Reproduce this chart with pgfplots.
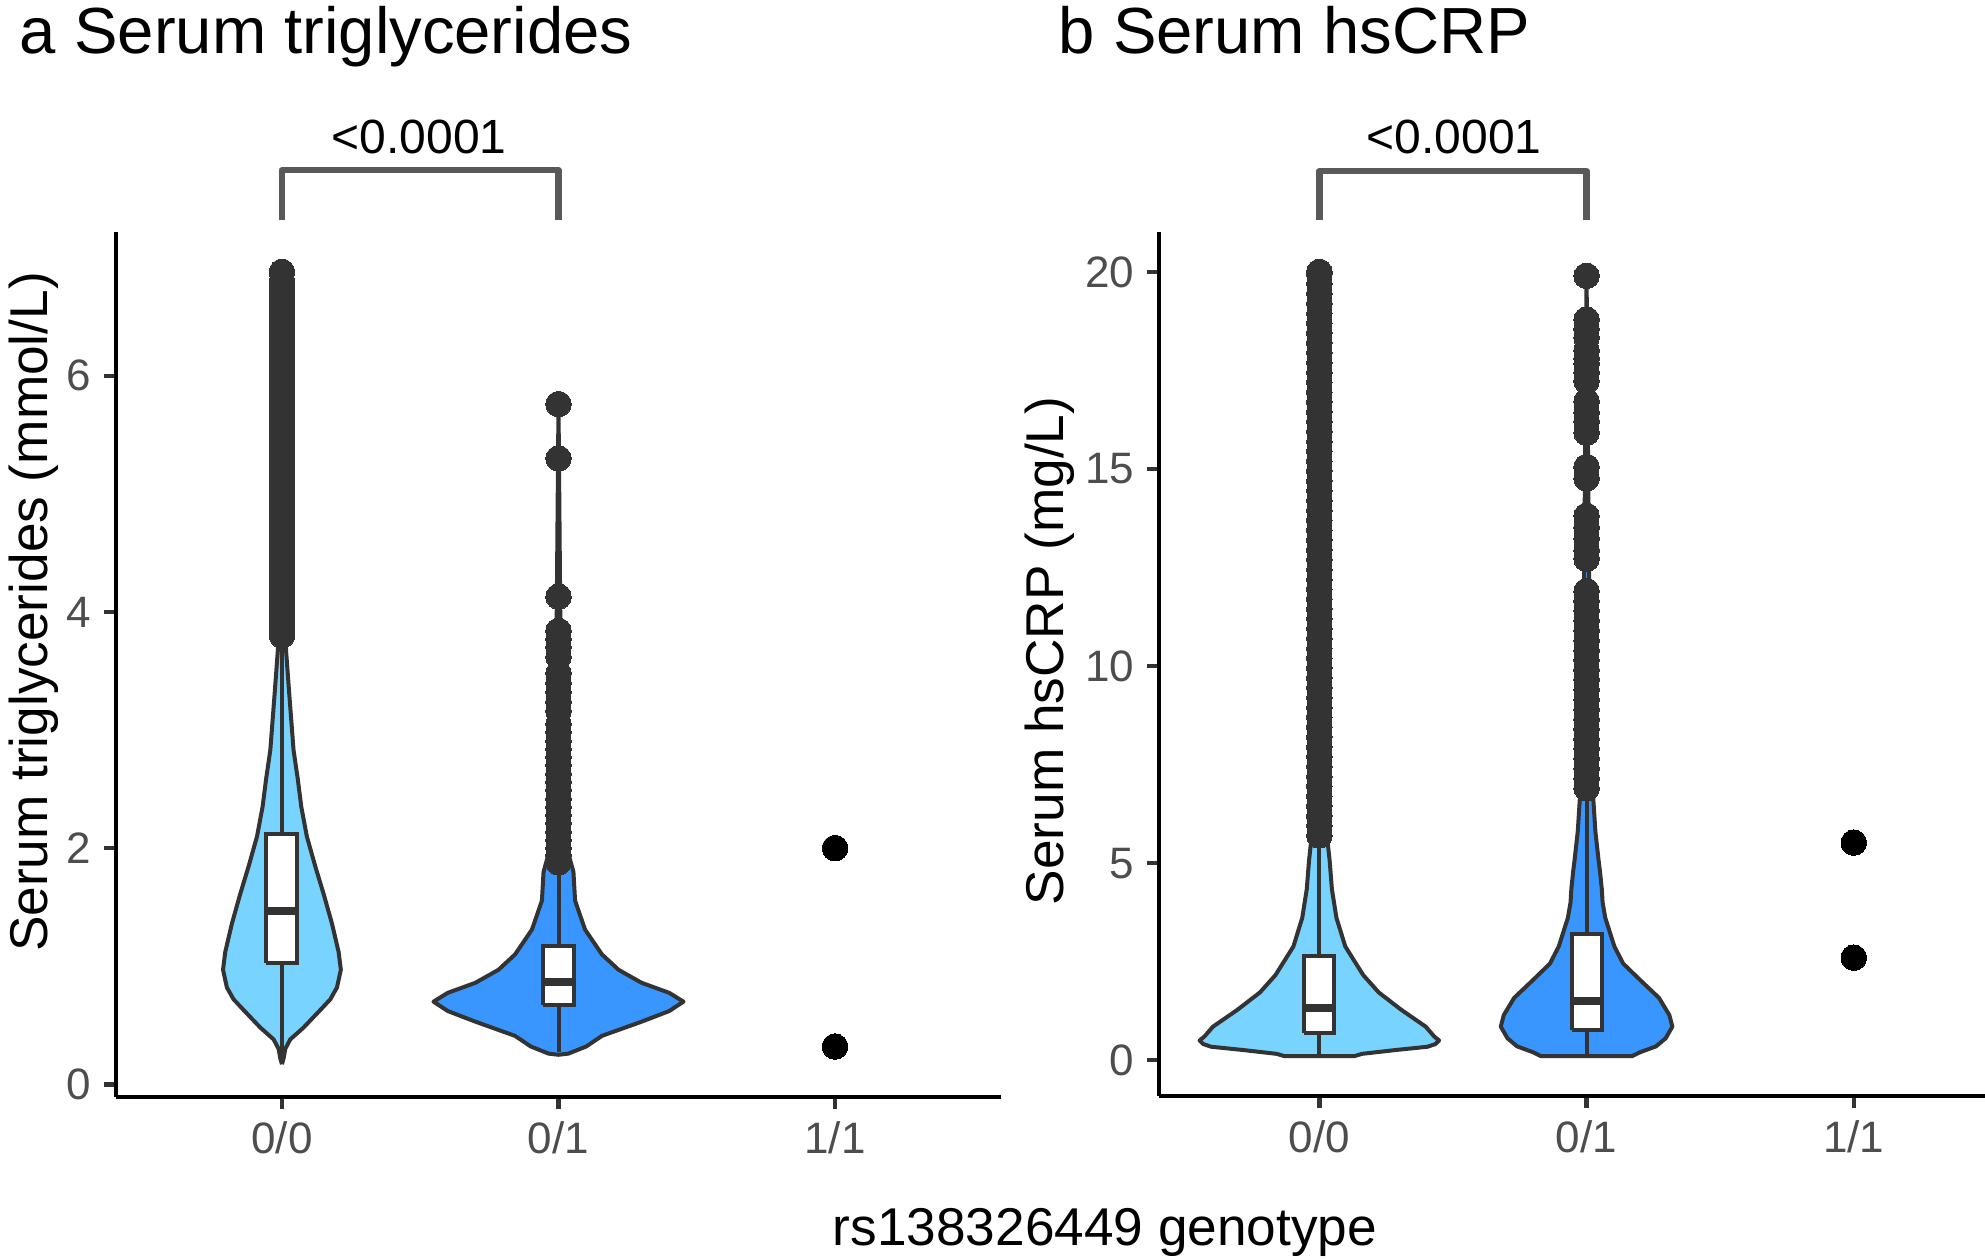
\documentclass[border=0pt]{standalone}
\usepackage{fontspec}
\setmainfont{Liberation Sans}
\usepackage{pgfplots}
\pgfplotsset{compat=1.18}
\definecolor{vlight}{RGB}{120,212,255}
\definecolor{vdark}{RGB}{58,150,255}
\definecolor{outl}{RGB}{51,51,51}
\definecolor{tickgray}{RGB}{77,77,77}
\definecolor{brk}{RGB}{89,89,89}
\pgfplotsset{
  common/.style={
    scale only axis, anchor=south west, clip=false,
    axis x line*=bottom, axis y line*=left,
    axis line style={-, line width=1pt, black},
    tick align=outside, major tick length=3pt,
    tick style={line width=1.1pt, color=outl},
    tick label style={font=\fontsize{11}{13}\selectfont, text=tickgray, inner sep=0pt},
    xticklabel shift=3pt, yticklabel shift=3pt,
    xtick={1,2,3}, xticklabels={0/0,0/1,1/1},
    xmin=0.4, minor tick num=0,
  },
  viol/.style={draw=outl, line width=1pt, line join=round},
  whisk/.style={outl, line width=1pt},
  boxs/.style={draw=outl, fill=white, line width=1pt, line join=miter},
  med/.style={outl, line width=2pt},
  outs/.style={only marks, mark=*, mark size=3.2pt, mark options={draw=outl, fill=outl, line width=0pt}},
  pts11/.style={only marks, mark=*, mark size=3.2pt, mark options={draw=black, fill=black, line width=0pt}},
  brack/.style={brk, line width=1.6pt, line join=round},
}
\begin{document}
\begin{tikzpicture}
\path[use as bounding box] (0pt,0pt) rectangle (496.25pt,314.5pt);

% ---------------- Panel a ----------------
\begin{axis}[common, at={(29pt,40.325pt)}, width=221.25pt, height=216.25pt,
  xmax=3.6, ymin=-0.105, ymax=7.22, ytick={0,2,4,6}, yticklabels={0,2,4,6}]
% violin 0/0
\addplot[viol, fill=vlight] coordinates {
 (1,0.17) (1.006,0.22) (1.012,0.30) (1.03,0.38) (1.078,0.48) (1.139,0.63) (1.175,0.72)
 (1.199,0.82) (1.213,0.97) (1.205,1.12) (1.181,1.36) (1.151,1.61) (1.12,1.85) (1.09,2.10)
 (1.07,2.35) (1.057,2.59) (1.042,2.83) (1.026,3.32) (1.015,3.67) (1.008,4.2) (1.004,5.5) (1,6.9)
 (0.996,5.5) (0.992,4.2) (0.985,3.67) (0.974,3.32) (0.958,2.83) (0.943,2.59) (0.93,2.35)
 (0.91,2.10) (0.88,1.85) (0.849,1.61) (0.819,1.36) (0.795,1.12) (0.787,0.97) (0.801,0.82)
 (0.825,0.72) (0.861,0.63) (0.922,0.48) (0.97,0.38) (0.988,0.30) (0.994,0.22) (1,0.17)};
% violin 0/1
\addplot[viol, fill=vdark] coordinates {
 (2,0.25) (2.036,0.26) (2.10,0.32) (2.157,0.41) (2.30,0.53) (2.40,0.62) (2.452,0.70)
 (2.40,0.775) (2.30,0.86) (2.217,0.97) (2.157,1.10) (2.096,1.31) (2.06,1.555) (2.054,1.80)
 (2.03,2.0) (2.01,3.0) (2,5.76)
 (1.99,3.0) (1.97,2.0) (1.946,1.80) (1.94,1.555) (1.904,1.31) (1.843,1.10) (1.783,0.97)
 (1.70,0.86) (1.60,0.775) (1.548,0.70) (1.60,0.62) (1.70,0.53) (1.843,0.41) (1.90,0.32)
 (1.964,0.26) (2,0.25)};
% boxplots
\addplot[whisk] coordinates {(1,0.2) (1,3.75)};
\addplot[boxs] coordinates {(0.944,1.03) (1.056,1.03) (1.056,2.12) (0.944,2.12) (0.944,1.03)};
\addplot[med] coordinates {(0.944,1.47) (1.056,1.47)};
\addplot[whisk] coordinates {(2,0.27) (2,1.88)};
\addplot[boxs] coordinates {(1.944,0.67) (2.056,0.67) (2.056,1.17) (1.944,1.17) (1.944,0.67)};
\addplot[med] coordinates {(1.944,0.87) (2.056,0.87)};
% outliers 0/0
\addplot[outs] coordinates {
 (1,3.80) (1,3.86) (1,3.92) (1,3.98) (1,4.04) (1,4.10) (1,4.16) (1,4.22) (1,4.28) (1,4.34)
 (1,4.40) (1,4.46) (1,4.52) (1,4.58) (1,4.64) (1,4.70) (1,4.76) (1,4.82) (1,4.88) (1,4.94)
 (1,5.00) (1,5.06) (1,5.12) (1,5.18) (1,5.24) (1,5.30) (1,5.36) (1,5.42) (1,5.48) (1,5.54)
 (1,5.60) (1,5.66) (1,5.72) (1,5.78) (1,5.84) (1,5.90) (1,5.96) (1,6.02) (1,6.08) (1,6.14)
 (1,6.20) (1,6.26) (1,6.32) (1,6.38) (1,6.44) (1,6.50) (1,6.56) (1,6.62) (1,6.68) (1,6.74)
 (1,6.80) (1,6.88)};
% outliers 0/1
\addplot[outs] coordinates {
 (2,5.76) (2,5.30) (2,4.13) (2,3.84) (2,3.77) (2,3.70) (2,3.62) (2,3.48) (2,3.40) (2,3.32)
 (2,3.24) (2,3.16) (2,3.05) (2,2.98) (2,2.91) (2,2.84) (2,2.77) (2,2.70) (2,2.63) (2,2.56)
 (2,2.49) (2,2.42) (2,2.35) (2,2.28) (2,2.21) (2,2.14) (2,2.07) (2,2.00) (2,1.94) (2,1.88)};
% 1/1 points
\addplot[pts11] coordinates {(3,2.0) (3,0.32)};
% bracket
\addplot[brack] coordinates {(1,7.32) (1,7.74) (2,7.74) (2,7.32)};
\end{axis}

% ---------------- Panel b ----------------
\begin{axis}[common, at={(289.75pt,40.5pt)}, width=206.5pt, height=216.075pt,
  xmax=3.491, ymin=-0.91, ymax=21.02, ytick={0,5,10,15,20}, yticklabels={0,5,10,15,20}]
% violin 0/0
\addplot[viol, fill=vlight] coordinates {
 (1,0.1) (1.13,0.1) (1.16,0.16) (1.29,0.26) (1.405,0.34) (1.435,0.41) (1.448,0.5) (1.43,0.6)
 (1.398,0.85) (1.306,1.28) (1.222,1.72) (1.164,2.16) (1.097,2.885) (1.064,3.61) (1.047,4.34)
 (1.0385,5.07) (1.03,5.6) (1.015,8) (1,20)
 (0.985,8) (0.97,5.6) (0.9615,5.07) (0.953,4.34) (0.936,3.61) (0.903,2.885) (0.836,2.16)
 (0.778,1.72) (0.694,1.28) (0.602,0.85) (0.57,0.6) (0.552,0.5) (0.565,0.41) (0.595,0.34)
 (0.71,0.26) (0.84,0.16) (0.87,0.1) (1,0.1)};
% violin 0/1
\addplot[viol, fill=vdark] coordinates {
 (2,0.1) (2.17,0.1) (2.20,0.2) (2.26,0.35) (2.296,0.555) (2.321,0.85) (2.31,1.14) (2.271,1.58)
 (2.204,2.01) (2.137,2.45) (2.104,2.885) (2.07,3.61) (2.06,4.0) (2.057,4.34) (2.05,4.8)
 (2.045,5.07) (2.033,5.8) (2.025,6.65) (2.012,10) (2,19.9)
 (1.988,10) (1.975,6.65) (1.967,5.8) (1.955,5.07) (1.95,4.8) (1.943,4.34) (1.94,4.0) (1.93,3.61)
 (1.896,2.885) (1.863,2.45) (1.796,2.01) (1.729,1.58) (1.69,1.14) (1.679,0.85) (1.704,0.555)
 (1.74,0.35) (1.80,0.2) (1.83,0.1) (2,0.1)};
% boxplots
\addplot[whisk] coordinates {(1,0.1) (1,5.6)};
\addplot[boxs] coordinates {(0.944,0.68) (1.056,0.68) (1.056,2.64) (0.944,2.64) (0.944,0.68)};
\addplot[med] coordinates {(0.944,1.33) (1.056,1.33)};
\addplot[whisk] coordinates {(2,0.1) (2,6.8)};
\addplot[boxs] coordinates {(1.944,0.76) (2.056,0.76) (2.056,3.21) (1.944,3.21) (1.944,0.76)};
\addplot[med] coordinates {(1.944,1.50) (2.056,1.50)};
% outliers 0/0
\addplot[outs] coordinates {
 (1,5.70) (1,5.95) (1,6.20) (1,6.45) (1,6.70) (1,6.95) (1,7.20) (1,7.45) (1,7.70) (1,7.95)
 (1,8.20) (1,8.45) (1,8.70) (1,8.95) (1,9.20) (1,9.45) (1,9.70) (1,9.95) (1,10.20) (1,10.45)
 (1,10.70) (1,10.95) (1,11.20) (1,11.45) (1,11.70) (1,11.95) (1,12.20) (1,12.45) (1,12.70)
 (1,12.95) (1,13.20) (1,13.45) (1,13.70) (1,13.95) (1,14.20) (1,14.45) (1,14.70) (1,14.95)
 (1,15.20) (1,15.45) (1,15.70) (1,15.95) (1,16.20) (1,16.45) (1,16.70) (1,16.95) (1,17.20)
 (1,17.45) (1,17.70) (1,17.95) (1,18.20) (1,18.45) (1,18.70) (1,18.95) (1,19.20) (1,19.45)
 (1,19.70) (1,19.95) (1,20.00)};
% outliers 0/1
\addplot[outs] coordinates {
 (2,19.90) (2,18.79) (2,18.55) (2,18.33) (2,18.01) (2,17.80) (2,17.67) (2,17.45) (2,17.23)
 (2,16.72) (2,16.43) (2,16.21) (2,15.92) (2,15.05) (2,14.76) (2,13.81) (2,13.52) (2,13.23)
 (2,12.94) (2,12.72) (2,11.90) (2,11.65) (2,11.40) (2,11.15) (2,10.90) (2,10.65) (2,10.40)
 (2,10.15) (2,9.90) (2,9.65) (2,9.40) (2,9.15) (2,8.90) (2,8.65) (2,8.40) (2,8.15) (2,7.90)
 (2,7.65) (2,7.40) (2,7.15) (2,6.90)};
% 1/1 points
\addplot[pts11] coordinates {(3,5.52) (3,2.6)};
% bracket
\addplot[brack] coordinates {(1,21.31) (1,22.56) (2,22.56) (2,21.31)};
\end{axis}

% ---------------- Texts ----------------
\node[anchor=base west, inner sep=0pt, font=\fontsize{16.3}{19}\selectfont] at (4.8pt,301.2pt) {a Serum triglycerides};
\node[anchor=base west, inner sep=0pt, font=\fontsize{16.3}{19}\selectfont] at (264.5pt,301.2pt) {b Serum hsCRP};
\node[anchor=base, inner sep=0pt, font=\fontsize{12}{14}\selectfont] at (104.75pt,276.2pt) {<0.0001};
\node[anchor=base, inner sep=0pt, font=\fontsize{12}{14}\selectfont] at (363.5pt,276.2pt) {<0.0001};
\node[anchor=base, inner sep=0pt, font=\fontsize{13.3}{16}\selectfont] at (276.25pt,3.25pt) {rs138326449 genotype};
\node[rotate=90, anchor=base, inner sep=0pt, font=\fontsize{13.3}{16}\selectfont] at (12pt,161.5pt) {Serum triglycerides (mmol/L)};
\node[rotate=90, anchor=base, inner sep=0pt, font=\fontsize{13.3}{16}\selectfont] at (265.9pt,151.75pt) {Serum hsCRP (mg/L)};
\end{tikzpicture}
\end{document}
